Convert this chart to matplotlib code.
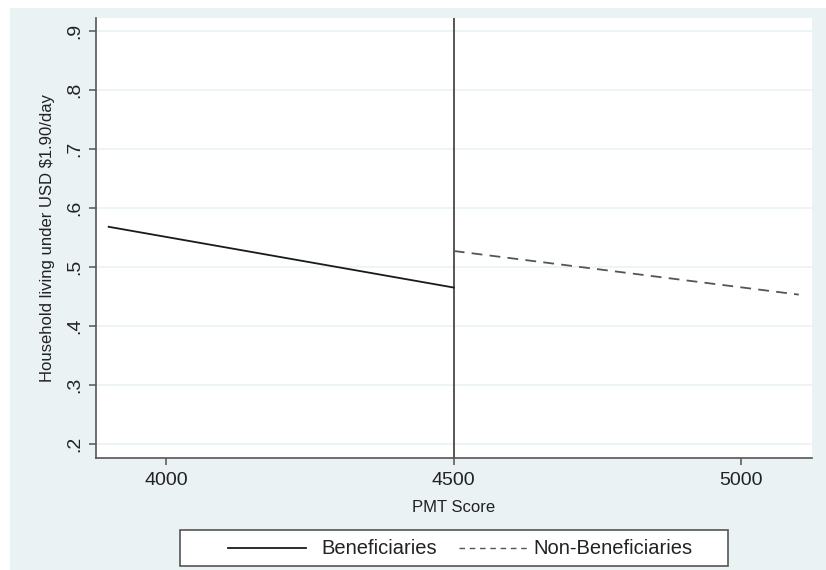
import matplotlib
matplotlib.use("Agg")
import matplotlib.pyplot as plt
from matplotlib.lines import Line2D
from matplotlib.patches import Rectangle

plt.rcParams['font.family'] = ['Liberation Sans', 'DejaVu Sans']

# values
x_ben = [3900, 4500]
y_ben = [0.568, 0.465]
x_non = [4500, 5100]
y_non = [0.527, 0.453]
cutoff = 4500
x_ticks = [4000, 4500, 5000]
y_ticks = [0.2, 0.3, 0.4, 0.5, 0.6, 0.7, 0.8, 0.9]
y_ticklabels = [".2", ".3", ".4", ".5", ".6", ".7", ".8", ".9"]
legend_labels = ["Beneficiaries", "Non-Beneficiaries"]

bg = '#eaf2f3'
axcol = '#555555'
W, H = 826, 570

fig = plt.figure(figsize=(8.26, 5.70), dpi=100)
fig.patch.set_facecolor('white')
fig.patches.append(Rectangle((10 / W, 0), 816 / W, 562 / H,
                             transform=fig.transFigure, facecolor=bg,
                             edgecolor='none', zorder=-10))

ax = fig.add_axes([96 / W, 112 / H, 716 / W, 440 / H])
ax.set_facecolor('white')

for yv in y_ticks:
    ax.axhline(yv, color=bg, lw=1.2, zorder=1)

ax.plot(x_ben, y_ben, color='#1a1a1a', lw=1.3, zorder=3)
ax.plot(x_non, y_non, color='#555555', lw=1.3, dashes=(6, 4), zorder=3)
ax.axvline(cutoff, color='#3a3a3a', lw=1.2, zorder=2)

ax.set_xlim(3878, 5123)
ax.set_ylim(0.176, 0.922)
ax.set_xticks(x_ticks)
ax.set_xticklabels([str(v) for v in x_ticks], fontsize=14)
ax.set_yticks(y_ticks)
ax.set_yticklabels(y_ticklabels, fontsize=14, rotation=90, va='center')

for s in ['top', 'right']:
    ax.spines[s].set_visible(False)
for s in ['left', 'bottom']:
    ax.spines[s].set_color(axcol)
    ax.spines[s].set_linewidth(1.2)
ax.tick_params(axis='both', colors=axcol, labelcolor='#222222', length=5, width=1.1)
ax.tick_params(axis='y', pad=4)
ax.tick_params(axis='x', pad=5)

ax.set_xlabel("PMT Score", fontsize=12, color='#222222', labelpad=8)
ax.set_ylabel("Household living under USD \\$1.90/day", fontsize=12,
              color='#222222', labelpad=8)

# legend drawn by hand, Stata style
fig.patches.append(Rectangle((180 / W, 4 / H), 548 / W, 36 / H,
                             transform=fig.transFigure, facecolor='white',
                             edgecolor='#555555', lw=1.2, zorder=1))
ly = 548
fig.add_artist(Line2D([228 / W, 306 / W], [(H - ly) / H] * 2,
                      transform=fig.transFigure, color='#1a1a1a', lw=1.3, zorder=2))
fig.add_artist(Line2D([459 / W, 528 / W], [(H - ly) / H] * 2,
                      transform=fig.transFigure, color='#555555', lw=1.0,
                      dashes=(4, 3.4), zorder=2))
fig.text(321 / W, (H - ly) / H, legend_labels[0], fontsize=14.5,
         color='#222222', va='center', ha='left')
fig.text(533 / W, (H - ly) / H, legend_labels[1], fontsize=14.5,
         color='#222222', va='center', ha='left')

fig.savefig("out.png", dpi=100, facecolor=fig.get_facecolor())
